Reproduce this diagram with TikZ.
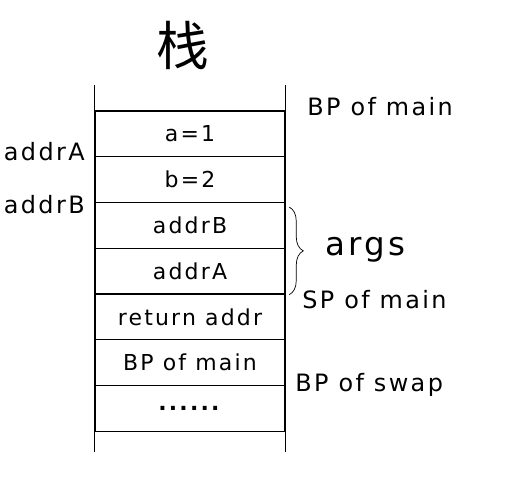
\documentclass[tikz,border=0pt]{standalone}
\usepackage{fontspec}
\setmainfont[LetterSpace=10]{DejaVu Sans}
\newfontfamily\cjk{Noto Sans CJK SC}
\usetikzlibrary{decorations.pathreplacing}

\begin{document}
\begin{tikzpicture}[
  cell/.style={draw,thick,minimum width=3.8cm,minimum height=0.915cm,inner sep=0pt,font=\fontsize{12.5}{14}\selectfont},
  side/.style={font=\fontsize{13.6}{15}\selectfont,inner sep=0pt}]
\useasboundingbox (0,0) rectangle (10.14,9.52);
\node[font=\cjk\fontsize{30}{32}\selectfont] (title) at (3.66,8.62) {栈};
% stack cells
\foreach \t [count=\i] in {a=1,b=2,addrB,addrA,return addr,BP of main,{\textbf{......}}}
  \node[cell] (c\i) at (3.8,7.3-0.4575-0.915*\i+0.915) {\t};
\draw[thick] (c1.north west) -- +(0,0.5) ;
\draw[thick] (c1.north east) -- +(0,0.5) ;
\draw[thick] (c7.south west) -- +(0,-0.4) ;
\draw[thick] (c7.south east) -- +(0,-0.4) ;
% labels
\node[side,anchor=west] (bpmain) at (6.14,7.38) {BP of main};
\node[side,anchor=east] (addra) at (1.7,6.48) {addrA};
\node[side,anchor=east] (addrb) at (1.7,5.42) {addrB};
\node[side,anchor=west] (spmain) at (6.04,3.52) {SP of main};
\node[side,anchor=west] (bpswap) at (5.9,1.82) {BP of swap};
\draw[decorate,decoration={brace,amplitude=8pt}] ([xshift=2pt,yshift=-3pt]c3.north east) -- ([xshift=2pt]c4.south east) ;
\node[font=\fontsize{18.5}{20}\selectfont,anchor=west,inner sep=0pt] (args) at (6.5,4.52) {args};
\end{tikzpicture}
\end{document}
